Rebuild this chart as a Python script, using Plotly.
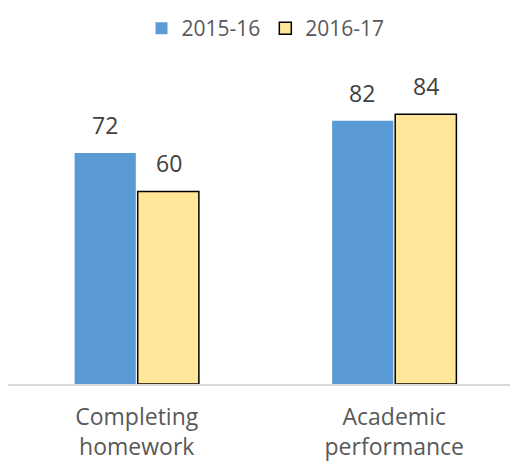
import plotly.graph_objects as go

categories = ["Completing<br>homework", "Academic<br>performance"]
series_names = ["2015-16", "2016-17"]
values_2015 = [72, 82]
values_2016 = [60, 84]

fig = go.Figure()
fig.add_trace(go.Bar(
    x=categories, y=values_2015, name=series_names[0],
    marker=dict(color="#5B9BD5", line=dict(width=0)),
))
fig.add_trace(go.Bar(
    x=categories, y=values_2016, name=series_names[1],
    marker=dict(color="#FFE699", line=dict(color="#000000", width=1.5)),
))

for vals, dx in ((values_2015, -32), (values_2016, 32)):
    for c, v in zip(categories, vals):
        fig.add_annotation(x=c, y=v, text=str(v), showarrow=False,
                           xshift=dx, yshift=10, yanchor="bottom",
                           font=dict(size=23, color="#404040"))

fig.update_layout(
    width=518, height=467,
    margin=dict(l=0, r=3, t=55, b=91),
    barmode="group", bargap=0.51, bargroupgap=0.03,
    plot_bgcolor="white", paper_bgcolor="white",
    font=dict(family="Open Sans, Liberation Sans, sans-serif", color="#595959"),
    showlegend=True,
    legend=dict(orientation="h", x=0.5, xanchor="center",
                yref="container", y=1.0, yanchor="top",
                font=dict(size=21, color="#595959"), traceorder="normal"),
    xaxis=dict(showline=True, linecolor="#D9D9D9", linewidth=1.5,
               tickfont=dict(size=23, color="#595959"), ticks="",
               ticklabelstandoff=12, automargin=False),
    yaxis=dict(range=[0, 100], visible=False, showgrid=False),
)

fig.write_html("out.html")
